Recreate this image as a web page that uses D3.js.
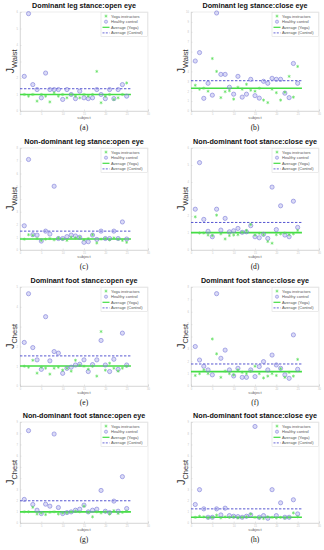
<!DOCTYPE html>
<html>
<head>
<meta charset="utf-8">
<script src="https://cdn.jsdelivr.net/npm/d3@7"></script>
<style>
  body { margin: 0; background: #fff; }
  svg { display: block; }
</style>
</head>
<body>
<div id="chart"></div>
<script>
// panel titles, y labels, axis max, and average lines
const titles = [
  'Dominant leg stance:open eye', 'Dominant leg stance:close eye',
  'Non-dominant leg stance:open eye', 'Non-dominant foot stance:close eye',
  'Dominant foot stance:open eye', 'Dominant foot stance:close eye',
  'Non-dominant foot stance:open eye', 'Non-dominant foot stance:close eye'
]
const panelTags = ['(a)', '(b)', '(c)', '(d)', '(e)', '(f)', '(g)', '(h)']
const ySubs = ['Waist', 'Waist', 'Waist', 'Waist', 'Chest', 'Chest', 'Chest', 'Chest']
const yMax = [6, 10, 8, 6, 5, 8, 9, 9]
const avgYoga = [1.0, 2.3, 0.86, 1.02, 1.01, 1.16, 0.99, 0.51]
const avgControl = [1.35, 3.06, 1.48, 1.62, 1.52, 1.78, 1.98, 1.26]
const legendLabels = ['Yoga instructors', 'Healthy control', 'Average (Yoga)', 'Average (Control)']
const xTicks = [0, 5, 10, 15, 20, 25, 30]

// subject values, 25 per group
const yogaA = [1.0, 0.9, 1.0, 0.6, 1.0, 0.9, 0.55, 1.1, 0.9, 1.0, 0.8, 1.0, 0.9, 0.8, 1.0, 0.9, 1.0, 2.4, 0.5, 0.9, 1.0, 0.7, 0.8, 1.0, 1.7]
const controlA = [2.1, 5.9, 1.6, 1.3, 0.8, 2.3, 1.3, 1.3, 1.3, 0.7, 1.3, 1.0, 0.75, 1.2, 0.8, 0.75, 0.8, 1.3, 1.0, 0.75, 1.3, 0.75, 1.3, 1.6, 0.9]
const yogaB = [2.6, 2.2, 2.3, 2.0, 5.3, 4.0, 1.35, 1.95, 2.05, 1.2, 2.4, 2.2, 2.7, 2.1, 2.0, 2.3, 1.1, 0.85, 2.2, 1.85, 1.1, 1.9, 3.5, 1.4, 4.5]
const controlB = [5.05, 5.9, 1.28, 2.8, 1.6, 9.9, 3.7, 3.7, 2.4, 1.7, 3.5, 1.4, 1.7, 3.2, 1.55, 1.3, 3.0, 2.8, 3.3, 3.2, 3.2, 1.8, 1.35, 4.8, 2.8]
const yogaC = [0.85, 1.2, 1.15, 0.9, 0.75, 0.85, 0.9, 0.8, 0.95, 0.85, 0.75, 1.0, 0.95, 1.0, 0.8, 0.9, 1.2, 0.55, 0.85, 0.9, 0.8, 0.95, 0.85, 0.75, 0.6]
const controlC = [1.9, 7.1, 1.2, 1.17, 0.7, 1.48, 1.25, 5.0, 0.9, 0.9, 1.05, 1.17, 1.1, 1.0, 0.6, 0.65, 1.17, 0.83, 1.48, 0.9, 0.9, 1.48, 0.9, 2.2, 0.86]
const yogaD = [1.95, 1.0, 1.0, 0.88, 0.85, 2.05, 0.95, 0.65, 0.85, 0.88, 0.9, 1.05, 1.15, 1.5, 0.88, 0.98, 0.9, 0.5, 0.4, 0.9, 0.95, 1.0, 0.9, 0.95, 1.15]
const controlD = [2.4, 5.14, 1.8, 1.1, 0.78, 2.4, 1.17, 1.86, 1.07, 1.13, 1.27, 1.04, 1.07, 1.43, 0.78, 0.72, 0.92, 0.68, 3.7, 1.2, 2.6, 0.88, 0.78, 2.87, 1.33]
const yogaE = [1.0, 0.95, 1.3, 0.65, 0.95, 0.9, 0.6, 0.9, 0.95, 0.8, 0.9, 0.75, 1.3, 1.05, 1.0, 0.85, 1.0, 0.5, 2.75, 0.8, 1.15, 0.9, 0.75, 0.9, 1.0]
const controlE = [2.2, 4.66, 1.94, 1.32, 0.84, 3.5, 1.27, 1.74, 1.66, 0.64, 0.89, 0.95, 1.06, 1.1, 1.32, 0.73, 1.08, 1.32, 2.3, 1.06, 0.73, 1.35, 0.84, 2.67, 1.06]
const yogaF = [0.85, 1.0, 1.3, 1.0, 3.8, 2.6, 0.7, 1.2, 1.0, 0.9, 1.3, 1.1, 1.0, 1.2, 1.6, 1.0, 0.65, 0.8, 1.0, 0.85, 1.4, 0.7, 1.1, 0.8, 2.15]
const controlF = [3.19, 2.1, 1.6, 1.3, 0.9, 7.46, 2.24, 2.9, 1.3, 0.81, 1.43, 0.7, 0.7, 1.3, 0.76, 1.57, 1.97, 1.3, 2.5, 1.7, 1.43, 0.9, 0.62, 4.13, 1.35]
const yogaG = [1.0, 1.0, 1.4, 0.8, 0.9, 0.75, 0.95, 1.0, 0.8, 0.9, 0.9, 1.0, 1.05, 1.0, 1.5, 0.95, 0.55, 1.0, 0.9, 1.0, 0.8, 1.1, 0.85, 0.95, 1.05]
const controlG = [2.1, 8.23, 1.65, 1.14, 0.84, 1.68, 1.5, 7.93, 1.38, 0.84, 0.93, 0.99, 1.14, 1.23, 1.59, 0.99, 1.14, 1.23, 2.9, 1.05, 0.93, 1.95, 1.05, 4.13, 1.29]
const yogaH = [0.5, 0.6, 0.55, 0.45, 0.5, 0.7, 0.45, 0.55, 0.5, 0.55, 0.45, 0.5, 0.55, 0.8, 0.5, 0.45, 0.4, 0.55, 0.5, 0.45, 0.5, 0.45, 0.5, 0.9, 0.55]
const controlH = [1.65, 2.97, 1.26, 0.51, 0.51, 1.26, 0.72, 1.32, 0.66, 0.6, 0.57, 0.51, 0.6, 0.72, 8.6, 0.51, 0.66, 0.42, 2.97, 0.66, 1.8, 0.51, 0.51, 2.07, 0.81]

const yogaSets = [yogaA, yogaB, yogaC, yogaD, yogaE, yogaF, yogaG, yogaH]
const controlSets = [controlA, controlB, controlC, controlD, controlE, controlF, controlG, controlH]

const W = 324, H = 550
const COL_X = [20, 191]
const PLOT_W = 128
const ROW_TOP = [12, 148, 287, 422]
const ROW_BOTTOM = [111, 250, 386, 523]

const GREEN = '#55dd55'
const GREEN_LINE = '#44dd44'
const BLUE = '#7b7bd9'
const BLUE_DASH = '#4444cc'

const svg = d3.select('#chart').append('svg')
  .attr('width', W)
  .attr('height', H)
  .style('font-family', 'Liberation Sans, Arial, sans-serif')

const star = d3.symbol().type(d3.symbolAsterisk).size(7)

titles.forEach((title, p) => {
  const col = p % 2, row = Math.floor(p / 2)
  const left = COL_X[col], top = ROW_TOP[row], bottom = ROW_BOTTOM[row]

  const x = d3.scaleLinear().domain([0, 30]).range([left, left + PLOT_W])
  const y = d3.scaleLinear().domain([0, yMax[p]]).range([bottom, top])

  const g = svg.append('g')

  // frame
  g.append('rect')
    .attr('x', left).attr('y', top)
    .attr('width', PLOT_W).attr('height', bottom - top)
    .attr('fill', 'none').attr('stroke', '#e2e2e2').attr('stroke-width', 0.6)

  // axes, very faint
  const xAxis = g.append('g')
    .attr('transform', `translate(0, ${ bottom })`)
    .call(d3.axisBottom(x).tickValues(xTicks).tickSize(-1.5).tickPadding(2))
  const yAxis = g.append('g')
    .attr('transform', `translate(${ left }, 0)`)
    .call(d3.axisLeft(y).ticks(yMax[p]).tickSize(-1.5).tickPadding(2))
  ;[xAxis, yAxis].forEach(a => {
    a.select('.domain').attr('stroke', '#cfcfcf').attr('stroke-width', 0.6)
    a.selectAll('.tick line').attr('stroke', '#cfcfcf').attr('stroke-width', 0.5)
    a.selectAll('.tick text').attr('font-size', 2.6).attr('fill', '#c4c4c4')
  })

  // title
  g.append('text')
    .attr('x', left + PLOT_W / 2)
    .attr('y', top - 4.5)
    .attr('text-anchor', 'middle')
    .attr('font-size', 7.2)
    .attr('font-weight', 'bold')
    .attr('fill', '#111')
    .text(title)

  // y label  J_sub
  const ylab = g.append('text')
    .attr('transform', `translate(${ left - 6 }, ${ (top + bottom) / 2 }) rotate(-90)`)
    .attr('text-anchor', 'middle')
    .attr('fill', '#333')
  ylab.append('tspan').attr('font-size', 11).text('J')
  ylab.append('tspan').attr('font-size', 7.5).attr('dy', 3).text(ySubs[p])

  // x label
  g.append('text')
    .attr('x', left + PLOT_W / 2)
    .attr('y', bottom + 8)
    .attr('text-anchor', 'middle')
    .attr('font-size', 4.2)
    .attr('fill', '#666')
    .text('subject')

  // panel tag
  g.append('text')
    .attr('x', left + PLOT_W / 2)
    .attr('y', bottom + 19)
    .attr('text-anchor', 'middle')
    .attr('font-size', 7.5)
    .attr('font-family', 'Liberation Serif, Times New Roman, serif')
    .attr('fill', '#111')
    .text(panelTags[p])

  // average lines
  g.append('line')
    .attr('x1', x(0)).attr('x2', x(26))
    .attr('y1', y(avgYoga[p])).attr('y2', y(avgYoga[p]))
    .attr('stroke', GREEN_LINE).attr('stroke-width', 1.6)
  g.append('line')
    .attr('x1', x(0)).attr('x2', x(26))
    .attr('y1', y(avgControl[p])).attr('y2', y(avgControl[p]))
    .attr('stroke', BLUE_DASH).attr('stroke-width', 0.9)
    .attr('stroke-dasharray', '2.4,1.6')

  // control circles
  g.selectAll('circle.ctrl')
    .data(controlSets[p])
    .enter().append('circle')
      .attr('class', 'ctrl')
      .attr('cx', (d, i) => x(i + 1))
      .attr('cy', d => y(d))
      .attr('r', 2.1)
      .attr('fill', 'rgba(150,150,230,0.35)')
      .attr('stroke', BLUE)
      .attr('stroke-width', 0.6)

  // yoga asterisks
  g.selectAll('path.yoga')
    .data(yogaSets[p])
    .enter().append('path')
      .attr('class', 'yoga')
      .attr('d', star)
      .attr('transform', (d, i) => `translate(${ x(i + 1) }, ${ y(d) })`)
      .attr('fill', 'none')
      .attr('stroke', GREEN)
      .attr('stroke-width', 0.6)

  // legend
  const lx = left + PLOT_W - 47, ly = top + 0.5
  const lg = g.append('g')
  lg.append('rect')
    .attr('x', lx).attr('y', ly)
    .attr('width', 46.5).attr('height', 24)
    .attr('fill', '#fff').attr('stroke', '#d8d8d8').attr('stroke-width', 0.5)
  legendLabels.forEach((lab, k) => {
    const ry = ly + 3.6 + k * 5.6
    if (k === 0) {
      lg.append('path').attr('d', star)
        .attr('transform', `translate(${ lx + 5 }, ${ ry })`)
        .attr('fill', 'none').attr('stroke', GREEN).attr('stroke-width', 0.6)
    } else if (k === 1) {
      lg.append('circle').attr('cx', lx + 5).attr('cy', ry).attr('r', 1.6)
        .attr('fill', 'rgba(150,150,230,0.35)').attr('stroke', BLUE).attr('stroke-width', 0.5)
    } else {
      lg.append('line')
        .attr('x1', lx + 1.5).attr('x2', lx + 8.5)
        .attr('y1', ry).attr('y2', ry)
        .attr('stroke', k === 2 ? GREEN_LINE : BLUE_DASH)
        .attr('stroke-width', k === 2 ? 1.2 : 0.8)
        .attr('stroke-dasharray', k === 2 ? null : '2,1.3')
    }
    lg.append('text')
      .attr('x', lx + 10).attr('y', ry + 1.4)
      .attr('font-size', 4)
      .attr('fill', '#555')
      .text(lab)
  })
})
</script>
</body>
</html>
